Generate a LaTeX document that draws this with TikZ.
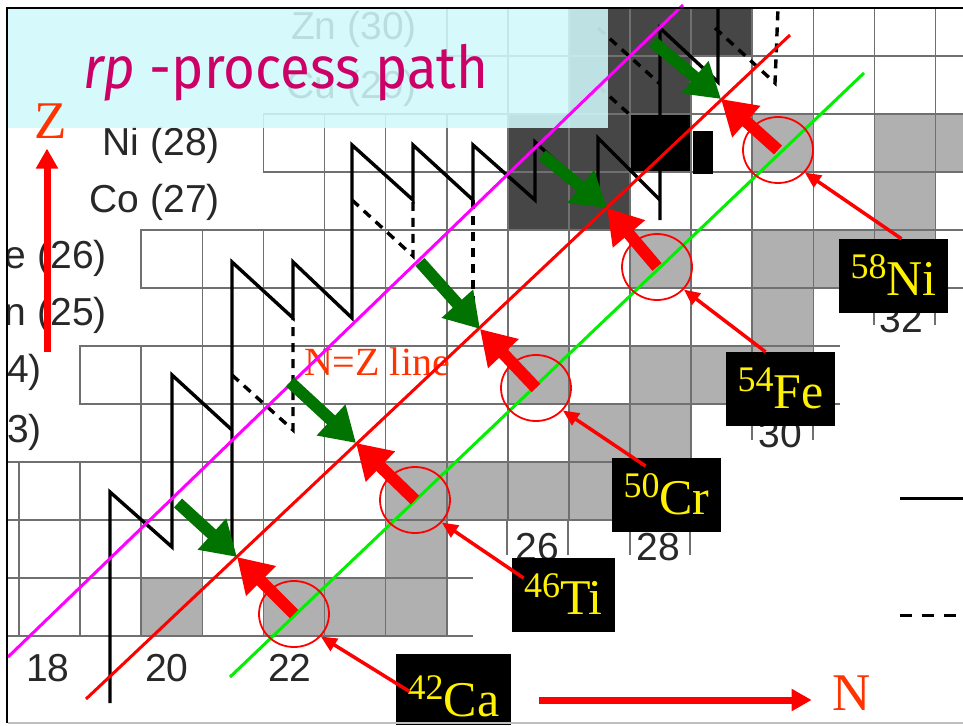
\documentclass[tikz,border=0pt]{standalone}
\usepackage{fontspec}
\usepackage{graphicx}
\setmainfont{Liberation Serif}
\newfontfamily\chartfont{Liberation Sans}
\newfontfamily\titlefont{Fira Sans}
\usetikzlibrary{arrows.meta,shapes.geometric}

\definecolor{titlecol}{RGB}{204,0,102}
\definecolor{capcol}{RGB}{208,250,252}
\definecolor{axiscol}{RGB}{255,51,0}
\definecolor{arrgreen}{RGB}{0,115,0}
\definecolor{linegreen}{RGB}{0,240,0}
\definecolor{linemagenta}{RGB}{255,0,255}
\definecolor{gridcol}{RGB}{112,112,112}
\definecolor{stablecol}{RGB}{176,176,176}
\definecolor{darkcell}{RGB}{70,70,70}
\definecolor{labelcol}{RGB}{40,40,40}

% one cell of the nuclide chart: options, N, Z
\newcommand\nuccell[3]{%
  \pgfmathsetmacro\cellx{19+61.1*(#2-18)}%
  \pgfmathsetmacro\celly{578-58*(#3-20)}%
  \path[#1] (\cellx,\celly) rectangle ++(61.1,58);}
% mass number set as a raised prefix
\newcommand\isotope[2]{{\fontsize{36}{36}\selectfont\raisebox{17pt}{#1}}#2}

\begin{document}
\begin{tikzpicture}[x=1pt,y=-1pt,
  gridline/.style={draw=gridcol,line width=1.6pt},
  rowlabel/.style={font=\chartfont\fontsize{39}{39}\selectfont,text=labelcol,inner sep=0pt,anchor=base east},
  collabel/.style={font=\chartfont\fontsize{39}{39}\selectfont,text=labelcol,inner sep=0pt,anchor=base},
  rppath/.style={draw=black,line width=3.4pt,line join=miter},
  rpalt/.style={draw=black,line width=3.4pt,dash pattern=on 9pt off 7pt},
  fatarrow/.style={line width=12pt,-{Triangle[length=34pt,width=40pt]}},
  ring/.style={ellipse,draw=red,line width=1.8pt,minimum width=70pt,minimum height=66pt,inner sep=0pt},
  pointer/.style={draw=red,line width=3.5pt,-{Triangle[length=16pt,width=14pt]}},
  isobox/.style={fill=black,text=yellow,inner sep=0pt,font=\fontsize{50}{50}\selectfont,
    minimum width=109pt,minimum height=74pt,text height=38pt,text depth=0pt},
  axislabel/.style={text=axiscol,inner sep=0pt,font=\fontsize{53}{53}\selectfont},
  axisarrow/.style={draw=red,line width=7pt,-{Triangle[length=20pt,width=21pt]}}]

\useasboundingbox (0,0) rectangle (963,725);
\fill[white] (0,0) rectangle (963,725);

\begin{scope}
\clip (8,8) rectangle (963,723);
% stable nuclei
\foreach \n/\z in {20/20,22/20,23/20,24/20,24/21,24/22,25/22,26/22,27/22,28/22,
  27/23,28/23,26/24,28/24,29/24,30/24,30/25,28/26,30/26,31/26,32/26,32/27,30/28,32/28,33/28}
  {\nuccell{fill=stablecol}{\n}{\z}}
% proton-rich cells along the path
\foreach \n/\z in {27/30,28/30,29/30,27/29,28/29,26/28,27/28,26/27,27/27}
  {\nuccell{fill=darkcell}{\n}{\z}}
\nuccell{fill=black}{28}{28}
% cell outlines, row by row
\foreach \z/\a/\b in {30/25/33,29/26/33,28/22/33,27/23/33,26/20/33,25/21/30,
  24/19/30,23/20/28,22/17/28,21/17/24,20/17/24}
  {\foreach \n in {\a,...,\b} {\nuccell{gridline}{\n}{\z}}}
\draw[gridline] (813,288) -- (840,288) (813,346) -- (840,346) (813,404) -- (840,404);
\draw[gridline] (445,520) -- (473,520) (445,578) -- (473,578) (445,636) -- (473,636);
% brackets beside the neutron numbers
\draw[gridline] (507,520) -- (507,555) (568,520) -- (568,555)
  (630,520) -- (630,555) (690,520) -- (690,555)
  (752,404) -- (752,440) (813,404) -- (813,440)
  (874,288) -- (874,325) (935,288) -- (935,325);
\fill[black] (693,131) rectangle (713,174);

% element names
\node[rowlabel] (zn) at (417,40) {Zn (30)};
\node[rowlabel] (cu) at (417,98) {Cu (29)};
\node[rowlabel] (ni) at (220,155) {Ni (28)};
\node[rowlabel] (co) at (220,212) {Co (27)};
\node[rowlabel] (fe) at (107,268) {Fe (26)};
\node[rowlabel] (mn) at (107,325) {Mn (25)};
\node[rowlabel] (cr) at (42,382) {Cr (24)};
\node[rowlabel] (v) at (42,442) {V (23)};
% neutron numbers
\node[collabel] (n18) at (48,681) {18};
\node[collabel] (n20) at (167,681) {20};
\node[collabel] (n22) at (290,681) {22};
\node[collabel] (n26) at (537,560) {26};
\node[collabel] (n28) at (658,560) {28};
\node[collabel] (n30) at (780,447) {30};
\node[collabel] (n32) at (901,332) {32};

% reaction path
\draw[rppath] (110,703) -- (110,492) -- (172,547) -- (172,375) -- (232,430);
\draw[rppath] (232,553) -- (232,262) -- (293,318) -- (293,262) -- (352,318)
  -- (352,145) -- (413,200) -- (413,145) -- (473,200) -- (473,145) -- (535,200)
  -- (535,142) -- (598,200) -- (598,138) -- (660,200);
\draw[rppath] (660,220) -- (660,28) -- (718,82) -- (718,6);
\draw[rpalt] (232,375) -- (293,430) -- (293,318);
\draw[rpalt] (352,200) -- (413,256) -- (413,200);
\draw[rpalt] (473,200) -- (473,328);
\draw[rpalt] (598,28) -- (660,84);
\draw[rpalt] (598,86) -- (660,142);
\draw[rpalt] (715,28) -- (775,83) -- (778,8);
% legend strokes
\draw[black,line width=3pt] (900,498) -- (963,498);
\draw[black,line width=3pt,dash pattern=on 12pt off 10pt] (900,615) -- (963,615);
\end{scope}

% caption panel
\fill[capcol,opacity=0.87] (8,8) rectangle (608,128);
\node[anchor=base west,inner sep=0pt,text=titlecol] (title) at (83,88)
  {\resizebox*{405pt}{57pt}{\titlefont\itshape rp\upshape\ -process path}};

% N=Z label
\node[text=axiscol,inner sep=0pt,font=\fontsize{40}{40}\selectfont] (nzlab) at (377,362) {N=Z line};

% guide lines
\coordinate (m1) at (8,657);   \coordinate (m2) at (683,5);
\coordinate (r1) at (86,699);  \coordinate (r2) at (790,35);
\coordinate (g1) at (230,677); \coordinate (g2) at (864,73);
\draw[linemagenta,line width=3pt] (m1) -- (m2);
\draw[red,line width=3pt] (r1) -- (r2);
\draw[linegreen,line width=3pt] (g1) -- (g2);

% marked nuclei
\node[ring] (ca) at (294,614) {};
\node[ring] (ti) at (415,500) {};
\node[ring] (crr) at (536,388) {};
\node[ring] (fer) at (657,267) {};
\node[ring] (nir) at (778,150) {};

% meeting points on the N=Z line and starts on the path line
\coordinate (h1) at (237,557); \coordinate (s1) at (178,503);
\coordinate (h2) at (356,443); \coordinate (s2) at (290,382);
\coordinate (h3) at (480,329); \coordinate (s3) at (420,262);
\coordinate (h4) at (607,208); \coordinate (s4) at (542,155);
\coordinate (h5) at (721,99);  \coordinate (s5) at (653,42);
\foreach \i in {1,...,5} {\draw[fatarrow,arrgreen] (s\i) -- (h\i);}
\draw[fatarrow,red] (ca.center) -- (h1);
\draw[fatarrow,red] (ti.center) -- (h2);
\draw[fatarrow,red] (crr.center) -- (h3);
\draw[fatarrow,red] (fer.center) -- (h4);
\draw[fatarrow,red] (nir.center) -- (h5);

% isotope tags
\node[isobox] (lni) at (893.5,276) {\isotope{58}{Ni}};
\node[isobox] (lfe) at (780.5,389) {\isotope{54}{Fe}};
\node[isobox] (lcr) at (666.5,495) {\isotope{50}{Cr}};
\node[isobox,minimum width=103pt] (lti) at (563.5,595) {\isotope{46}{Ti}};
\node[isobox,minimum width=115pt,minimum height=71pt,text height=54pt] (lca) at (453.5,689.5) {\isotope{42}{Ca}};
\draw[pointer] ([shift={(8,0)}]lni.north) -- (nir.-40);
\draw[pointer] ([shift={(-15,0)}]lfe.north) -- (fer.-40);
\draw[pointer] ([shift={(-21,-29)}]lcr.center) -- (crr.-40);
\draw[pointer] ([shift={(-40,-17)}]lti.center) -- (ti.-40);
\draw[pointer] ([shift={(-44,2)}]lca.center) -- (ca.-40);

% axes
\node[axislabel] (zlab) at (51,121) {Z};
\node[axislabel] (nlab) at (852,693) {N};
\coordinate (zfoot) at (47,352);
\coordinate (nfoot) at (539,700);
\draw[axisarrow] (zfoot) -- ([shift={(-4,10)}]zlab.south);
\draw[axisarrow] (nfoot) -- ([shift={(-21,7)}]nlab.west);

% frame
\draw[black,line width=2pt] (7,723) -- (7,8) -- (963,8);
\draw[gray!50,line width=1.5pt] (8,723) -- (963,723);
\end{tikzpicture}
\end{document}
